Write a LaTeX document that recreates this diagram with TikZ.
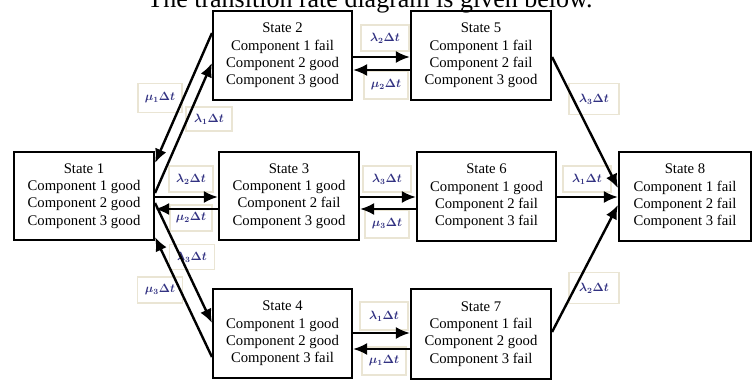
\documentclass[tikz,border=0pt]{standalone}
\usepackage{fontspec}
\setmainfont{Liberation Serif}
\usetikzlibrary{arrows.meta}
\definecolor{labborder}{RGB}{234,229,212}
\definecolor{labtext}{RGB}{50,50,130}
\begin{document}
\begin{tikzpicture}[x=1pt,y=-1pt,
 state/.style={draw, line width=2.1pt, align=center, inner sep=0pt, font=\fontsize{14.7}{17.3}\selectfont},
 lab/.style={draw=labborder, line width=1.5pt, fill=white, text=labtext, inner sep=0pt, font=\fontsize{12}{12}\selectfont\boldmath},
 arr/.style={line width=2.4pt, -{Latex[length=14pt,width=12pt]}},
]
\useasboundingbox (0,0) rectangle (753,388);
\node[anchor=base, font=\fontsize{26}{26}\selectfont, inner sep=0pt] (title) at (370,7) {The transition rate diagram is given below.};

% labels
\node[lab, minimum width=44pt, minimum height=29pt] (l21) at (160,98) {$\mu_1\Delta t$};
\node[lab, minimum width=46pt, minimum height=24pt] (l12) at (209,119) {$\lambda_1\Delta t$};
\node[lab, minimum width=44pt, minimum height=26pt] (l13) at (191,179) {$\lambda_2\Delta t$};
\node[lab, minimum width=42pt, minimum height=26pt] (l31) at (191,218) {$\mu_2\Delta t$};
\node[lab, minimum width=45pt, minimum height=25pt] (l14) at (192,257) {$\lambda_3\Delta t$};
\node[lab, minimum width=45pt, minimum height=26pt] (l41) at (160,290) {$\mu_3\Delta t$};
\node[lab, minimum width=48pt, minimum height=26pt] (l25) at (385,38) {$\lambda_2\Delta t$};
\node[lab, minimum width=44pt, minimum height=28pt] (l52) at (386,85) {$\mu_2\Delta t$};
\node[lab, minimum width=48pt, minimum height=26pt] (l36) at (387,179) {$\lambda_3\Delta t$};
\node[lab, minimum width=44pt, minimum height=28pt] (l63) at (387,224) {$\mu_3\Delta t$};
\node[lab, minimum width=48pt, minimum height=26pt] (l68) at (587,179) {$\lambda_1\Delta t$};
\node[lab, minimum width=50pt, minimum height=31pt] (l58) at (594,99) {$\lambda_3\Delta t$};
\node[lab, minimum width=50pt, minimum height=31pt] (l78) at (594,288) {$\lambda_2\Delta t$};
\node[lab, minimum width=48pt, minimum height=28pt] (l47) at (384,316) {$\lambda_1\Delta t$};
\node[lab, minimum width=44pt, minimum height=28pt] (l74) at (384,361) {$\mu_1\Delta t$};

% states
\node[state, minimum width=140pt, minimum height=88pt] (s1) at (84,196) {State 1\\Component 1 good\\Component 2 good\\Component 3 good};
\node[state, minimum width=139pt, minimum height=89pt] (s2) at (282.5,55.5) {State 2\\Component 1 fail\\Component 2 good\\Component 3 good};
\node[state, minimum width=140pt, minimum height=88pt] (s3) at (289,196) {State 3\\Component 1 good\\Component 2 fail\\Component 3 good};
\node[state, minimum width=139pt, minimum height=89pt] (s4) at (282.5,333.5) {State 4\\Component 1 good\\Component 2 good\\Component 3 fail};
\node[state, minimum width=140pt, minimum height=89pt] (s5) at (481,55.5) {State 5\\Component 1 fail\\Component 2 fail\\Component 3 good};
\node[state, minimum width=139pt, minimum height=89pt] (s6) at (486.5,196.5) {State 6\\Component 1 good\\Component 2 fail\\Component 3 fail};
\node[state, minimum width=140pt, minimum height=90pt] (s7) at (481,334) {State 7\\Component 1 fail\\Component 2 good\\Component 3 fail};
\node[state, minimum width=132pt, minimum height=89pt] (s8) at (685,196.5) {State 8\\Component 1 fail\\Component 2 fail\\Component 3 fail};

% diagonal arrows on the left
\draw[arr] ([yshift=3pt]s1.east) -- ([yshift=-7.5pt]s2.west);
\draw[arr] ([yshift=22.5pt]s2.west) -- ([yshift=33pt]s1.east);
\draw[arr] ([yshift=-7pt]s1.east) -- ([yshift=10.5pt]s4.west);
\draw[arr] ([yshift=-23.5pt]s4.west) -- ([yshift=-41pt]s1.east);

% horizontal arrows
\draw[arr] ([yshift=-1pt]s1.east) -- ([yshift=-1pt]s3.west);
\draw[arr] ([yshift=-13pt]s3.west) -- ([yshift=-13pt]s1.east);
\draw[arr] ([yshift=-1pt]s3.east) -- ([yshift=-0.5pt]s6.west);
\draw[arr] ([yshift=-12.5pt]s6.west) -- ([yshift=-13pt]s3.east);
\draw[arr] ([yshift=-0.5pt]s6.east) -- ([yshift=-0.5pt]s8.west);
\draw[arr] ([yshift=-1.5pt]s2.east) -- ([yshift=-1.5pt]s5.west);
\draw[arr] ([yshift=-14.5pt]s5.west) -- ([yshift=-14.5pt]s2.east);
\draw[arr] ([yshift=0.5pt]s4.east) -- ([yshift=1pt]s7.west);
\draw[arr] ([yshift=-15pt]s7.west) -- ([yshift=-15.5pt]s4.east);

% arrows into state 8
\draw[arr] ([yshift=-1.5pt]s5.east) -- ([yshift=8.5pt]s8.west);
\draw[arr] ([yshift=2pt]s7.east) -- ([yshift=-8.5pt]s8.west);
\end{tikzpicture}
\end{document}
